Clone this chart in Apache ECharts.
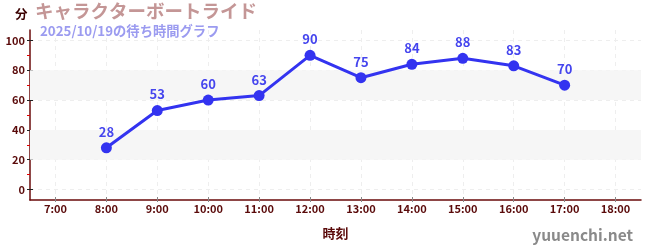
<!DOCTYPE html>
<html><head><meta charset="utf-8">
<script src="https://cdn.jsdelivr.net/npm/echarts@6/dist/echarts.min.js"></script>
<style>html,body{margin:0;padding:0;background:#fff}#c{width:650px;height:250px}</style>
</head><body><div id="c"></div>
<script>
const categories = ["7:00","8:00","9:00","10:00","11:00","12:00","13:00","14:00","15:00","16:00","17:00","18:00"];
const waitTimes = [null,28,53,60,63,90,75,84,88,83,70,null];
const yTicks = [0,20,40,60,80,100];
const yMinorTicks = [10,30,50,70,90];
const titleText = "キャラクターボートライド";
const subtitleText = "2025/10/19の待ち時間グラフ";

const hours = categories.map(c => parseInt(c, 10));
const seriesData = [];
categories.forEach((c, i) => { if (waitTimes[i] != null) seriesData.push([hours[i], waitTimes[i]]); });

const font = '"Noto Sans CJK JP","Noto Sans",sans-serif';
const axisColor = '#5a0a0a';
const chart = echarts.init(document.getElementById('c'), null, {renderer: 'canvas'});
chart.setOption({
  animation: false,
  textStyle: {fontFamily: font},
  title: [
    {text: titleText, left: 35, top: 2, padding: 0, textStyle: {fontSize: 18.5, fontWeight: 'bold', color: '#c49696', fontFamily: font}},
    {text: subtitleText, left: 40, top: 24, padding: 0, textStyle: {fontSize: 13.3, fontWeight: 'bold', color: '#9b9bf0', fontFamily: font}},
    {text: '分', left: 15, top: 8, padding: 0, textStyle: {fontSize: 12.5, fontWeight: 'bold', color: '#3a0000', fontFamily: font}},
    {text: 'yuuenchi.net', right: 17, bottom: 7, padding: 0, textStyle: {fontSize: 15.5, fontWeight: 'bold', color: '#8a8a8a', fontFamily: font}}
  ],
  grid: {left: 30, right: 9, top: 30, bottom: 50},
  xAxis: [
    {
      type: 'value', min: 6.5, max: 18.5,
      name: '時刻', nameLocation: 'middle', nameGap: 27,
      nameTextStyle: {fontSize: 13, fontWeight: 'bold', color: axisColor, fontFamily: font},
      axisLine: {show: true, onZero: false, lineStyle: {color: '#6a0a0a', width: 1.5}},
      axisTick: {show: true, inside: true, length: 3, customValues: hours, lineStyle: {color: '#888'}},
      axisLabel: {customValues: hours, formatter: v => categories[hours.indexOf(Math.round(v))] || '', fontSize: 11, fontWeight: 'bold', color: axisColor, margin: 3},
      splitLine: {show: true, lineStyle: {color: '#eeeeee', type: [4, 4]}}
    },
    {
      type: 'value', min: 6.5, max: 18.5, position: 'bottom',
      axisLine: {show: false, onZero: false},
      axisTick: {show: true, length: 2, customValues: hours, lineStyle: {color: '#888'}},
      axisLabel: {show: false},
      splitLine: {show: false}
    }
  ],
  yAxis: [
    {
      type: 'value', min: -7, max: 107,
      axisLine: {show: true, onZero: false, lineStyle: {color: '#6a0a0a', width: 1.5}},
      axisTick: {show: true, length: 3, customValues: yTicks, lineStyle: {color: '#222'}},
      axisLabel: {customValues: yTicks, fontSize: 11, fontWeight: 'bold', color: axisColor, margin: 5},
      splitLine: {show: true, lineStyle: {color: '#eeeeee', type: [4, 4]}}
    },
    {
      type: 'value', min: -7, max: 107, position: 'left',
      axisLine: {show: false, onZero: false},
      axisTick: {show: true, inside: true, length: 3, customValues: yTicks, lineStyle: {color: '#222'}},
      axisLabel: {show: false},
      splitLine: {show: false}
    },
    {
      type: 'value', min: -7, max: 107, position: 'left',
      axisLine: {show: false, onZero: false},
      axisTick: {show: true, length: 3, customValues: yMinorTicks, lineStyle: {color: '#e00000'}},
      axisLabel: {show: false},
      splitLine: {show: false}
    }
  ],
  series: [{
    type: 'line',
    data: seriesData,
    symbol: 'circle', symbolSize: 11,
    lineStyle: {color: '#3333f0', width: 3},
    itemStyle: {color: '#3333f0'},
    label: {show: true, position: 'top', distance: 4, fontSize: 13, fontWeight: 'bold', color: '#4545ee', formatter: p => p.value[1]},
    markArea: {
      silent: true,
      itemStyle: {color: '#f6f6f6'},
      data: [[{yAxis: 20}, {yAxis: 40}], [{yAxis: 60}, {yAxis: 80}]]
    },
    z: 3
  }]
});
</script></body></html>
